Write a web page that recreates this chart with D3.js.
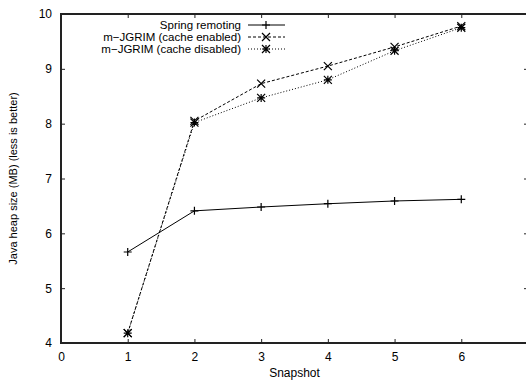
<!DOCTYPE html>
<html>
<head>
<meta charset="utf-8">
<style>
  body { margin: 0; background: #fff; }
  svg { display: block; font-family: "Liberation Sans", Arial, sans-serif; }
  .tick text { font-size: 12px; fill: #000; }
</style>
</head>
<body>
<svg width="526" height="380"></svg>
<script src="https://d3js.org/d3.v7.min.js"></script>
<script>
// snapshots on the x axis
let snapshots = [1, 2, 3, 4, 5, 6]

// heap size (MB) per snapshot
let springRemoting = [5.66, 6.41, 6.48, 6.54, 6.59, 6.62]
let cacheEnabled = [4.18, 8.05, 8.73, 9.05, 9.40, 9.78]
let cacheDisabled = [4.18, 8.02, 8.47, 8.80, 9.33, 9.75]

let seriesNames = ["Spring remoting", "m\u2212JGRIM (cache enabled)", "m\u2212JGRIM (cache disabled)"]

let xTicks = [0, 1, 2, 3, 4, 5, 6]
let yTicks = [4, 5, 6, 7, 8, 9, 10]

let width = 526
let height = 380
let margin = {top: 14, right: -2, bottom: 37, left: 61}

let svg = d3.select("svg")

let x = d3.scaleLinear()
    .domain([0, 7])
    .range([margin.left, width - margin.right])

let y = d3.scaleLinear()
    .domain([4, 10])
    .range([height - margin.bottom, margin.top])

// inward ticks on all four sides, like gnuplot
svg.append("g")
    .attr("transform", `translate(0, ${y(4)})`)
    .call(d3.axisBottom(x).tickValues(xTicks).tickSize(-4).tickPadding(9).tickFormat(d3.format("d")))
    .call(g => g.select(".domain").remove())

svg.append("g")
    .attr("transform", `translate(0, ${y(10)})`)
    .call(d3.axisTop(x).tickValues(xTicks).tickSize(-4).tickFormat(""))
    .call(g => g.select(".domain").remove())

svg.append("g")
    .attr("transform", `translate(${x(0)}, 0)`)
    .call(d3.axisLeft(y).tickValues(yTicks).tickSize(-4).tickPadding(9).tickFormat(d3.format("d")))
    .call(g => g.select(".domain").remove())

svg.append("g")
    .attr("transform", `translate(${x(7)}, 0)`)
    .call(d3.axisRight(y).tickValues(yTicks).tickSize(-4).tickFormat(""))
    .call(g => g.select(".domain").remove())

svg.selectAll(".tick line").attr("stroke", "#222").attr("stroke-width", 1)

// frame
svg.append("rect")
    .attr("x", x(0))
    .attr("y", y(10))
    .attr("width", x(7) - x(0))
    .attr("height", y(4) - y(10))
    .attr("fill", "none")
    .attr("stroke", "#222")
    .attr("stroke-width", 2)

// axis labels
svg.append("text")
    .attr("x", (x(0) + x(7)) / 2)
    .attr("y", 377)
    .attr("text-anchor", "middle")
    .style("font-size", "12px")
    .text("Snapshot")

svg.append("text")
    .attr("transform", `translate(17, ${(y(4) + y(10)) / 2}) rotate(-90)`)
    .attr("text-anchor", "middle")
    .style("font-size", "11px")
    .text("Java heap size (MB) (less is better)")

let series = [
    {name: seriesNames[0], values: springRemoting, dash: null, marker: "plus"},
    {name: seriesNames[1], values: cacheEnabled, dash: "3,2", marker: "cross"},
    {name: seriesNames[2], values: cacheDisabled, dash: "1,2", marker: "star"}
]

let markerPath = function (type, cx, cy) {
    let s = 4
    let plus = `M${cx - s},${cy}H${cx + s}M${cx},${cy - s}V${cy + s}`
    let cross = `M${cx - s},${cy - s}L${cx + s},${cy + s}M${cx - s},${cy + s}L${cx + s},${cy - s}`
    if (type == "plus") return plus
    if (type == "cross") return cross
    return plus + cross
}

let line = d3.line()
    .x((d, i) => x(snapshots[i]))
    .y(d => y(d))

series.forEach(s => {
    svg.append("path")
        .datum(s.values)
        .attr("d", line)
        .attr("fill", "none")
        .attr("stroke", "#000")
        .attr("stroke-width", 1)
        .attr("stroke-dasharray", s.dash)

    svg.append("g")
        .selectAll("path")
        .data(s.values)
        .join("path")
        .attr("d", (d, i) => markerPath(s.marker, x(snapshots[i]), y(d)))
        .attr("stroke", "#000")
        .attr("stroke-width", 1.2)
        .attr("fill", "none")
})

// legend
let legend = svg.append("g")
series.forEach((s, i) => {
    let ly = 25 + i * 12
    legend.append("text")
        .attr("x", 241)
        .attr("y", ly + 4)
        .attr("text-anchor", "end")
        .style("font-size", "11.5px")
        .text(s.name)
    legend.append("line")
        .attr("x1", 248).attr("x2", 285)
        .attr("y1", ly).attr("y2", ly)
        .attr("stroke", "#000")
        .attr("stroke-dasharray", s.dash)
    legend.append("path")
        .attr("d", markerPath(s.marker, 266, ly))
        .attr("stroke", "#000")
        .attr("stroke-width", 1.2)
        .attr("fill", "none")
})
</script>
</body>
</html>
